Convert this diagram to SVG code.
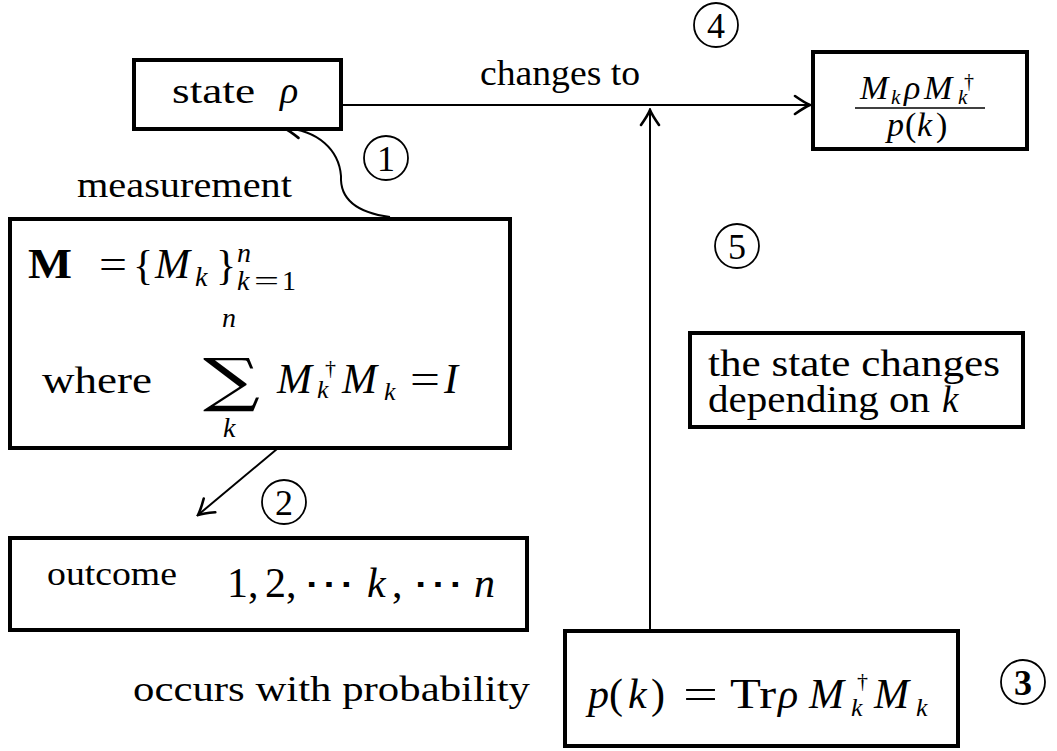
<svg xmlns="http://www.w3.org/2000/svg" width="1057" height="751" viewBox="0 0 1057 751">
<style>
.box{fill:#fff;stroke:#000;stroke-width:4}
.ln{fill:none;stroke:#000;stroke-width:2}
.t{font-family:"Liberation Serif","Times New Roman",serif;fill:#000}
.i{font-style:italic}
.circ{fill:none;stroke:#000;stroke-width:1.8}
.sum{font-family:"DejaVu Serif","Liberation Serif",serif;fill:#000}
</style>
<defs>
<marker id="arr" viewBox="-18 -11 20 22" markerWidth="20" markerHeight="22" refX="0" refY="0" orient="auto" markerUnits="userSpaceOnUse">
<path d="M-15,-9 Q-5,-2 0,0 Q-5,2 -15,9" fill="none" stroke="#000" stroke-width="2.6" stroke-linecap="round"/>
</marker>
</defs>
<g id="connectors">
<path class="ln" d="M341,105 L810,105" marker-end="url(#arr)"/>
<path class="ln" d="M650,631 L650,110" marker-end="url(#arr)"/>
<path class="ln" d="M390,217 C352,212 340,196 341,176 C339,150 318,130 284,128" marker-end="url(#arr)"/>
<path class="ln" d="M277,449 L198,515" marker-end="url(#arr)"/>
</g>
<g id="labels">
<text class="t" x="480" y="85" font-size="35" textLength="160" lengthAdjust="spacingAndGlyphs">changes to</text>
<text class="t" x="77" y="197" font-size="35" textLength="215" lengthAdjust="spacingAndGlyphs">measurement</text>
<text class="t" x="133" y="701" font-size="36" textLength="397" lengthAdjust="spacingAndGlyphs">occurs with probability</text>
<g id="c1"><circle class="circ" cx="386" cy="158" r="22"/><text class="t" x="386" y="171" font-size="36" text-anchor="middle">1</text></g>
<g id="c2"><circle class="circ" cx="284" cy="502" r="22"/><text class="t" x="284" y="515" font-size="36" text-anchor="middle">2</text></g>
<g id="c3"><circle class="circ" cx="1023" cy="682" r="22" stroke-width="3.6"/><text class="t" x="1023" y="695" font-size="36" font-weight="bold" text-anchor="middle">3</text></g>
<g id="c4"><circle class="circ" cx="716" cy="25" r="22"/><text class="t" x="716" y="38" font-size="36" text-anchor="middle">4</text></g>
<g id="c5"><circle class="circ" cx="737" cy="246" r="22"/><text class="t" x="737" y="259" font-size="36" text-anchor="middle">5</text></g>
</g>
<g id="state">
<rect class="box" x="134" y="60" width="207" height="69"/>
<text class="t" x="172" y="103" font-size="35" textLength="83" lengthAdjust="spacingAndGlyphs">state</text>
<text class="t i" x="280" y="103" font-size="38">ρ</text>
</g>
<g id="result">
<rect class="box" x="813" y="52" width="214" height="97"/>
<text class="t i" x="860" y="99" font-size="34">M</text>
<text class="t i" x="891" y="104" font-size="21">k</text>
<text class="t i" x="904" y="99" font-size="34">ρ</text>
<text class="t i" x="924" y="99" font-size="34">M</text>
<text class="t" x="964" y="88" font-size="20">†</text>
<text class="t i" x="958" y="104" font-size="21">k</text>
<line x1="855" y1="108" x2="985" y2="108" stroke="#000" stroke-width="1.6"/>
<text class="t i" x="887" y="136" font-size="34">p</text>
<text class="t" x="905" y="136" font-size="34">(</text>
<text class="t i" x="917" y="136" font-size="34">k</text>
<text class="t" x="936" y="136" font-size="34">)</text>
</g>
<g id="measurement">
<rect class="box" x="10" y="219" width="500" height="229"/>
<text class="t" x="28" y="278" font-size="42" font-weight="bold" textLength="44" lengthAdjust="spacingAndGlyphs">M</text>
<text class="t" x="99" y="278" font-size="42" textLength="28" lengthAdjust="spacingAndGlyphs">=</text>
<text class="t" x="133" y="279" font-size="42">{</text>
<text class="t i" x="155" y="278" font-size="42">M</text>
<text class="t i" x="195" y="286" font-size="28">k</text>
<text class="t" x="216" y="279" font-size="42">}</text>
<text class="t i" x="237" y="262" font-size="28">n</text>
<text class="t i" x="237" y="290" font-size="28">k</text>
<text class="t" x="254" y="290" font-size="28" textLength="25" lengthAdjust="spacingAndGlyphs">=</text>
<text class="t" x="282" y="290" font-size="28">1</text>
<text class="t" x="42" y="393" font-size="38" textLength="110" lengthAdjust="spacingAndGlyphs">where</text>
<text class="t i" x="222" y="327" font-size="28">n</text>
<text class="sum" x="203" y="400" font-size="58" textLength="57" lengthAdjust="spacingAndGlyphs">∑</text>
<text class="t i" x="223" y="437" font-size="28">k</text>
<text class="t i" x="277" y="393" font-size="42">M</text>
<text class="t" x="325" y="375" font-size="22">†</text>
<text class="t i" x="317" y="398" font-size="26">k</text>
<text class="t i" x="342" y="393" font-size="42">M</text>
<text class="t i" x="384" y="400" font-size="26">k</text>
<text class="t" x="410" y="393" font-size="42" textLength="30" lengthAdjust="spacingAndGlyphs">=</text>
<text class="t i" x="444" y="393" font-size="42">I</text>
</g>
<g id="outcome">
<rect class="box" x="10" y="538" width="517" height="92"/>
<text class="t" x="47" y="585" font-size="33" textLength="130" lengthAdjust="spacingAndGlyphs">outcome</text>
<text class="t" x="227" y="597" font-size="42">1,</text>
<text class="t" x="265" y="597" font-size="42">2,</text>
<text class="t" x="303" y="597" font-size="42" textLength="52" lengthAdjust="spacingAndGlyphs">⋯</text>
<text class="t i" x="367" y="597" font-size="42">k</text>
<text class="t" x="392" y="597" font-size="42">,</text>
<text class="t" x="412" y="597" font-size="42" textLength="52" lengthAdjust="spacingAndGlyphs">⋯</text>
<text class="t i" x="474" y="597" font-size="42">n</text>
</g>
<g id="depends">
<rect class="box" x="690" y="333" width="333" height="94"/>
<text class="t" x="708" y="376" font-size="37" textLength="292" lengthAdjust="spacingAndGlyphs">the state changes</text>
<text class="t" x="708" y="412" font-size="37" textLength="222" lengthAdjust="spacingAndGlyphs">depending on</text>
<text class="t i" x="942" y="412" font-size="37">k</text>
</g>
<g id="probability">
<rect class="box" x="565" y="631" width="393" height="115"/>
<text class="t i" x="588" y="708" font-size="42">p</text>
<text class="t" x="609" y="708" font-size="42">(</text>
<text class="t i" x="628" y="708" font-size="42">k</text>
<text class="t" x="651" y="708" font-size="42">)</text>
<text class="t" x="683" y="708" font-size="42" textLength="35" lengthAdjust="spacingAndGlyphs">=</text>
<text class="t" x="730" y="708" font-size="42" textLength="46" lengthAdjust="spacingAndGlyphs">Tr</text>
<text class="t i" x="778" y="708" font-size="42">ρ</text>
<text class="t i" x="809" y="708" font-size="42">M</text>
<text class="t" x="857" y="688" font-size="22">†</text>
<text class="t i" x="851" y="716" font-size="26">k</text>
<text class="t i" x="874" y="708" font-size="42">M</text>
<text class="t i" x="916" y="716" font-size="26">k</text>
</g>
</svg>
